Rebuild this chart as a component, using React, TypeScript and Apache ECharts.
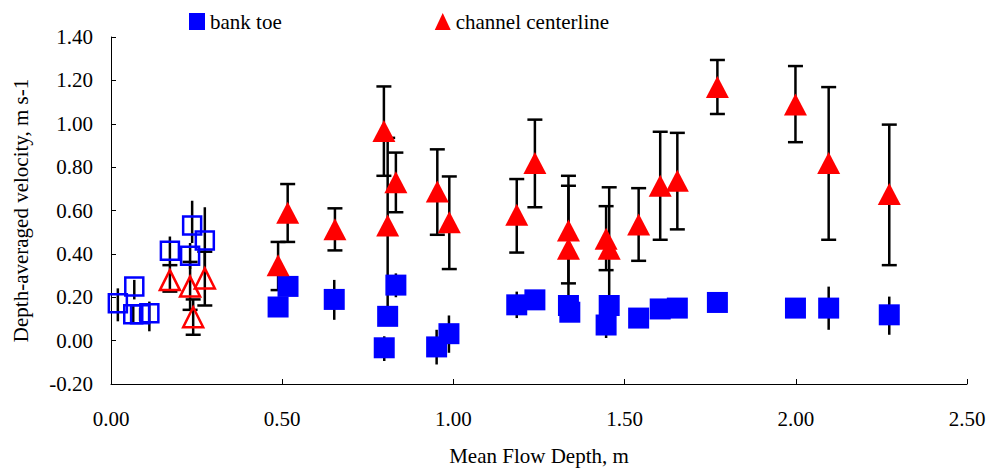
import React, { useEffect, useRef } from "react";
import * as echarts from "echarts";

// [depth, velocity, errLow, errHigh]
const bankToe: number[][] = [
  [0.488, 0.155, 0.12, 0.19],
  [0.517, 0.25, 0.21, 0.29],
  [0.652, 0.19, 0.096, 0.28],
  [0.798, -0.033, -0.094, 0.02],
  [0.808, 0.112, 0.07, 0.16],
  [0.832, 0.256, 0.2, 0.31],
  [0.951, -0.029, -0.11, 0.05],
  [0.987, 0.032, -0.056, 0.116],
  [1.185, 0.165, 0.104, 0.226],
  [1.238, 0.188, 0.16, 0.22],
  [1.336, 0.162, 0.13, 0.2],
  [1.34, 0.131, 0.1, 0.17],
  [1.446, 0.072, 0.012, 0.119],
  [1.455, 0.162, 0.13, 0.2],
  [1.541, 0.104, 0.08, 0.13],
  [1.604, 0.146, 0.12, 0.17],
  [1.654, 0.15, 0.13, 0.17],
  [1.771, 0.176, 0.16, 0.19],
  [1.999, 0.15, 0.13, 0.17],
  [2.096, 0.15, 0.05, 0.249],
  [2.273, 0.119, 0.027, 0.203],
];

const channelCenterline: number[][] = [
  [0.488, 0.348, 0.233, 0.455],
  [0.516, 0.59, 0.455, 0.722],
  [0.654, 0.513, 0.416, 0.61],
  [0.797, 0.966, 0.76, 1.172],
  [0.808, 0.531, 0.12, 0.935],
  [0.832, 0.73, 0.592, 0.867],
  [0.953, 0.688, 0.488, 0.882],
  [0.988, 0.546, 0.33, 0.757],
  [1.185, 0.58, 0.406, 0.745],
  [1.238, 0.819, 0.615, 1.019],
  [1.336, 0.508, 0.264, 0.76],
  [1.336, 0.424, 0.17, 0.714],
  [1.446, 0.47, 0.325, 0.62],
  [1.455, 0.424, 0.17, 0.707],
  [1.541, 0.536, 0.368, 0.703],
  [1.604, 0.714, 0.465, 0.963],
  [1.654, 0.737, 0.513, 0.958],
  [1.771, 1.17, 1.045, 1.294],
  [1.999, 1.089, 0.915, 1.266],
  [2.096, 0.819, 0.465, 1.169],
  [2.273, 0.676, 0.348, 0.996],
];

const bankToeOpen: number[][] = [
  [0.02, 0.172, 0.089, 0.241],
  [0.068, 0.249, 0.19, 0.28],
  [0.065, 0.122, 0.08, 0.16],
  [0.085, 0.122, 0.09, 0.15],
  [0.112, 0.126, 0.043, 0.18],
  [0.172, 0.414, 0.35, 0.48],
  [0.237, 0.531, 0.45, 0.645],
  [0.231, 0.391, 0.33, 0.45],
  [0.274, 0.462, 0.33, 0.615],
];

const channelOpen: number[][] = [
  [0.172, 0.279, 0.226, 0.348],
  [0.231, 0.249, 0.142, 0.363],
  [0.24, 0.108, 0.027, 0.19],
  [0.274, 0.287, 0.162, 0.41],
];

const xLabels = ["0.00", "0.50", "1.00", "1.50", "2.00", "2.50"];
const yLabels = ["-0.20", "0.00", "0.20", "0.40", "0.60", "0.80", "1.00", "1.20", "1.40"];

const FONT = "Liberation Serif, Times New Roman, serif";
const BLUE = "#0000ff";
const RED = "#ff0000";

function errSeries(data: number[][], cap: number) {
  return {
    type: "custom",
    silent: true,
    z: 1,
    encode: { x: 0, y: [2, 3] },
    data: data.map((d) => [d[0], d[1], d[2], d[3]]),
    renderItem: (_params: any, api: any) => {
      const x = api.value(0);
      const lo = api.coord([x, api.value(2)]);
      const hi = api.coord([x, api.value(3)]);
      const style = { stroke: "#000", lineWidth: 2.5 };
      const children: any[] = [
        { type: "line", shape: { x1: lo[0], y1: lo[1], x2: hi[0], y2: hi[1] }, style },
      ];
      if (cap > 0) {
        children.push({
          type: "line",
          shape: { x1: lo[0] - cap / 2, y1: lo[1], x2: lo[0] + cap / 2, y2: lo[1] },
          style,
        });
        children.push({
          type: "line",
          shape: { x1: hi[0] - cap / 2, y1: hi[1], x2: hi[0] + cap / 2, y2: hi[1] },
          style,
        });
      }
      return { type: "group", children };
    },
  };
}

export default function App() {
  const ref = useRef<HTMLDivElement>(null);
  useEffect(() => {
    if (!ref.current) return;
    const chart = echarts.init(ref.current, undefined, { renderer: "svg" });
    const axisText = { color: "#000", fontFamily: FONT, fontSize: 21 };
    chart.setOption({
      animation: false,
      backgroundColor: "#fff",
      grid: { left: 111, right: 23, top: 37, bottom: 85 },
      legend: {
        left: 189,
        top: 11,
        padding: 0,
        itemGap: 153,
        itemWidth: 16,
        itemHeight: 17,
        textStyle: { color: "#000", fontFamily: FONT, fontSize: 21 },
        data: [
          { name: "bank toe", icon: "rect", itemStyle: { color: BLUE, opacity: 1 } },
          { name: "channel centerline", icon: "triangle", itemStyle: { color: RED, opacity: 1 } },
        ],
      },
      xAxis: {
        type: "value",
        min: 0,
        max: 2.5,
        interval: 0.5,
        name: "Mean Flow Depth, m",
        nameLocation: "middle",
        nameGap: 61,
        nameTextStyle: axisText,
        axisLine: { show: true, onZero: false, lineStyle: { color: "#000", width: 1 } },
        axisTick: { show: true, inside: true, length: 5, lineStyle: { color: "#000" } },
        axisLabel: {
          ...axisText,
          margin: 24,
          formatter: (v: number) => xLabels[Math.round(v / 0.5)] ?? v.toFixed(2),
        },
        splitLine: { show: false },
      },
      yAxis: {
        type: "value",
        min: -0.2,
        max: 1.4,
        interval: 0.2,
        name: "Depth-averaged velocity, m s-1",
        nameLocation: "middle",
        nameGap: 80,
        nameTextStyle: axisText,
        axisLine: { show: true, lineStyle: { color: "#000", width: 1 } },
        axisTick: { show: true, inside: true, length: 5, lineStyle: { color: "#000" } },
        axisLabel: {
          ...axisText,
          margin: 18,
          formatter: (v: number) => yLabels[Math.round((v + 0.2) / 0.2)] ?? v.toFixed(2),
        },
        splitLine: { show: false },
      },
      series: [
        errSeries(bankToeOpen, 0),
        errSeries(channelOpen, 15),
        errSeries(bankToe, 0),
        errSeries(channelCenterline, 15),
        {
          name: "bank toe open",
          type: "scatter",
          z: 3,
          symbol: "rect",
          symbolSize: 18,
          itemStyle: { color: "rgba(0,0,0,0)", borderColor: BLUE, borderWidth: 2.5, opacity: 1 },
          data: bankToeOpen.map((d) => [d[0], d[1]]),
        },
        {
          name: "channel open",
          type: "scatter",
          z: 3,
          symbol: "triangle",
          symbolSize: [20, 20],
          itemStyle: { color: "rgba(0,0,0,0)", borderColor: RED, borderWidth: 2.5, opacity: 1 },
          data: channelOpen.map((d) => [d[0], d[1]]),
        },
        {
          name: "bank toe",
          type: "scatter",
          z: 4,
          symbol: "rect",
          symbolSize: 21,
          itemStyle: { color: BLUE, opacity: 1 },
          data: bankToe.map((d) => [d[0], d[1]]),
        },
        {
          name: "channel centerline",
          type: "scatter",
          z: 4,
          symbol: "triangle",
          symbolSize: [23, 22],
          itemStyle: { color: RED, opacity: 1 },
          data: channelCenterline.map((d) => [d[0], d[1]]),
        },
      ],
    });
    return () => chart.dispose();
  }, []);
  return (
    <div
      ref={ref}
      style={{ position: "fixed", left: 0, top: 0, width: 990, height: 471 }}
    />
  );
}
